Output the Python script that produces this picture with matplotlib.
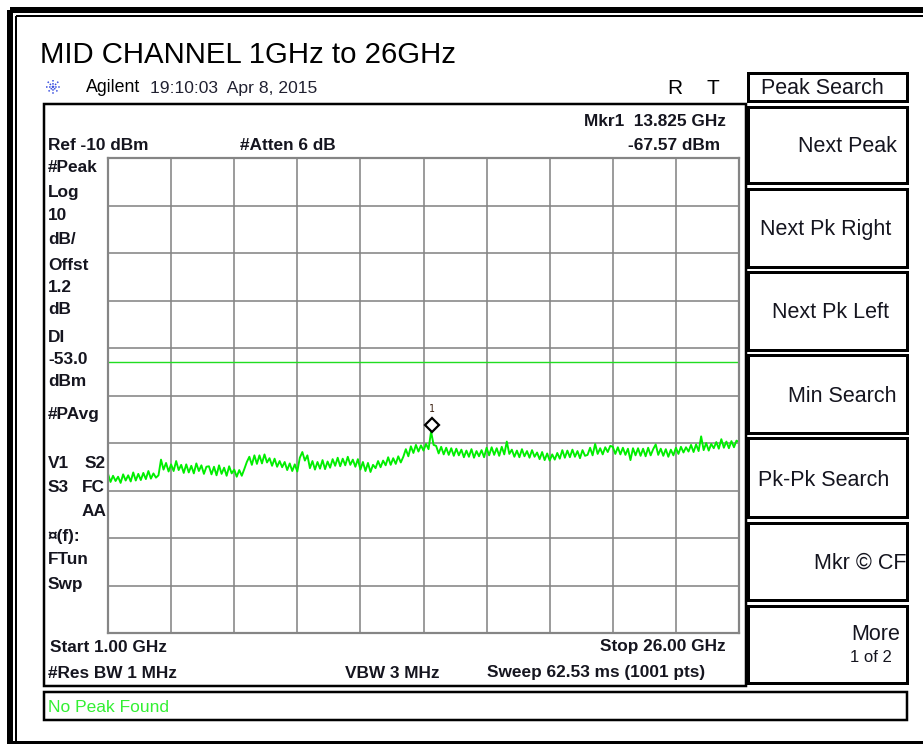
import numpy as np
import matplotlib
matplotlib.use("Agg")
import matplotlib.pyplot as plt
from matplotlib.patches import Rectangle
import matplotlib.transforms as mtransforms

plt.rcParams['font.family'] = ['Liberation Sans', 'DejaVu Sans']

# ---- sweep settings ----
start_ghz = 1.0
stop_ghz = 26.0
step_ghz = 0.1
ref_level_dbm = -10.0
db_per_div = 10.0
display_line_dbm = -53.0
marker_freq_ghz = 13.825
marker_level_dbm = -67.57

# ---- measured trace (dBm), one value per 0.1 GHz from 1.0 to 26.0 GHz ----
trace_dbm = [
    -76.5, -78.2, -76.9, -78.0, -77.1, -78.4, -76.6, -77.9, -76.8, -78.1,
    -76.2, -77.9, -76.5, -77.8, -76.3, -77.6, -75.9, -77.5, -76.4, -77.3,
    -76.8, -73.5, -75.6, -74.2, -76.0, -74.5, -75.9, -73.8, -75.7, -74.6,
    -76.3, -74.5, -76.2, -74.8, -76.4, -74.3, -75.9, -74.7, -76.5, -75.0,
    -74.9, -76.6, -75.0, -76.8, -74.7, -76.5, -75.2, -76.9, -74.9, -76.4,
    -75.6, -77.1, -75.7, -76.9, -75.5, -74.0, -72.9, -74.6, -72.6, -74.4,
    -72.6, -74.3, -72.4, -74.1, -73.2, -74.8, -73.3, -75.0, -73.8, -75.1,
    -74.0, -75.7, -74.3, -75.9, -74.5, -76.0, -73.1, -71.9, -73.7, -72.6,
    -75.3, -73.8, -75.6, -74.0, -75.4, -73.6, -75.5, -73.9, -75.2, -73.4,
    -74.8, -73.1, -74.9, -73.3, -74.7, -72.9, -74.6, -73.5, -75.0, -73.4,
    -75.6, -74.0, -75.9, -74.2, -76.1, -74.6, -75.3, -73.8, -75.1, -73.7,
    -74.7, -73.0, -74.6, -73.2, -74.4, -72.8, -74.1, -72.9, -71.3, -72.8,
    -70.7, -72.1, -70.4, -71.8, -70.5, -71.6, -70.2, -71.3, -67.57, -70.4,
    -70.6, -72.2, -70.8, -72.4, -71.0, -72.5, -71.1, -72.7, -71.2, -72.6,
    -71.4, -73.0, -71.6, -72.9, -71.3, -73.1, -71.7, -72.8, -71.5, -73.0,
    -71.0, -72.6, -70.9, -72.5, -71.1, -72.7, -70.8, -72.4, -69.7, -72.3,
    -71.4, -72.9, -71.6, -73.0, -71.3, -72.8, -71.7, -73.1, -71.5, -72.9,
    -72.0, -73.4, -71.9, -73.6, -72.2, -73.7, -72.4, -73.5, -72.1, -73.3,
    -71.5, -73.1, -71.6, -73.0, -71.4, -72.9, -71.7, -73.2, -71.5, -72.7,
    -72.5, -71.0, -72.6, -70.2, -72.3, -71.1, -72.4, -70.9, -71.9, -70.6,
    -70.8, -72.3, -70.9, -72.4, -71.0, -72.5, -71.2, -73.6, -71.1, -72.6,
    -71.1, -72.7, -71.2, -72.8, -71.0, -72.6, -71.3, -70.3, -72.5, -71.2,
    -72.7, -71.3, -72.9, -71.4, -72.6, -71.0, -72.3, -70.8, -72.0, -70.9,
    -71.8, -70.4, -71.9, -70.3, -71.7, -68.6, -71.5, -70.0, -71.6, -70.2,
    -71.1, -69.8, -71.2, -69.2, -71.0, -69.7, -71.1, -69.6, -70.9, -69.5,
    -69.8,
]
freq_ghz = start_ghz + step_ghz * np.arange(len(trace_dbm))

# ---- screen annotations ----
left_labels = [
    ("#Peak", 167), ("Log", 192), ("10", 215), ("dB/", 239), ("Offst", 265),
    ("1.2", 287), ("dB", 309), ("DI", 338), ("-53.0", 360), ("dBm", 382),
    ("#PAvg", 414), ("¤(f):", 536), ("FTun", 560), ("Swp", 585),
]
softkeys = [
    ("Next Peak", 897, 147), ("Next Pk Right", 891, 230), ("Next Pk Left", 889, 313),
    ("Min Search", 897, 397), ("Pk-Pk Search", 889, 480), ("Mkr © CF", 906, 563),
    ("More", 900, 635),
]
softkey_boxes = [(107, 183), (189, 267), (272, 350), (355, 433), (438, 517),
                 (523, 600), (606, 683)]

W, H = 923, 744
DPI = 100
fig = plt.figure(figsize=(W / DPI, H / DPI), dpi=DPI)
fig.patch.set_facecolor("white")

bg = fig.add_axes([0, 0, 1, 1])
bg.set_xlim(0, W)
bg.set_ylim(H, 0)
bg.axis("off")

px = 72.0 / DPI  # points per pixel
ink = "#15151f"


def box(x0, y0, x1, y1, lw_px, color="black"):
    bg.add_patch(Rectangle((x0, y0), x1 - x0, y1 - y0, fill=False,
                           edgecolor=color, linewidth=lw_px * px, zorder=2))


# outer double frame
box(10, 10, 1000, 744, 6)
box(16, 16, 1000, 1000, 2)

# instrument panel, softkeys, status line
box(43.5, 104, 745.5, 685.5, 2.5)
box(748, 73, 907, 101, 3)
for y0, y1 in softkey_boxes:
    box(748, y0, 907, y1, 3)
box(43.5, 692, 907, 720, 2.5)

# title and header
bg.text(40, 63, "MID CHANNEL 1GHz to 26GHz", fontsize=21.2, color="black",
        ha="left", va="baseline")
cx, cy, r = 53, 87, 7.5
for ang in (0, 45, 90, 135):
    a = np.deg2rad(ang)
    bg.plot([cx - r * np.cos(a), cx + r * np.cos(a)],
            [cy - r * np.sin(a), cy + r * np.sin(a)],
            color="#3a4fe0", lw=1.1, ls=(0, (1, 1)), solid_capstyle="butt")
bg.text(86, 88, "Agilent", fontsize=12.8, color="black", ha="left", va="center")
bg.text(150, 88, "19:10:03  Apr 8, 2015", fontsize=12.6, color="#202030",
        ha="left", va="center")
bg.text(675, 88, "R", fontsize=15, color="black", ha="center", va="center")
bg.text(713, 88, "T", fontsize=15, color="black", ha="center", va="center")
bg.text(822, 88, "Peak Search", fontsize=15.5, color=ink, ha="center", va="center")

# softkey labels
for label, x, y in softkeys:
    bg.text(x, y, label, fontsize=15.5, color=ink, ha="right", va="center")
bg.text(892, 657, "1 of 2", fontsize=12, color=ink, ha="right", va="center")

# readouts
bold = dict(fontsize=12.4, fontweight="bold", color=ink, va="center")
bg.text(48, 145, "Ref -10 dBm", ha="left", **bold)
bg.text(240, 145, "#Atten 6 dB", ha="left", **bold)
bg.text(726, 121, "Mkr1  13.825 GHz", ha="right", **bold)
bg.text(720, 145, "-67.57 dBm", ha="right", **bold)
for label, y in left_labels:
    bg.text(48, y, label, ha="left", **bold)
bg.text(48, 463, "V1", ha="left", **bold)
bg.text(85, 463, "S2", ha="left", **bold)
bg.text(48, 487, "S3", ha="left", **bold)
bg.text(82, 487, "FC", ha="left", **bold)
bg.text(82, 512, "AA", ha="left", **bold)
bg.text(50, 647, "Start 1.00 GHz", ha="left", **bold)
bg.text(726, 647, "Stop 26.00 GHz", ha="right", **bold)
bg.text(48, 673, "#Res BW 1 MHz", ha="left", **bold)
bg.text(345, 673, "VBW 3 MHz", ha="left", **bold)
bg.text(487, 673, "Sweep 62.53 ms (1001 pts)", ha="left", **bold)
bg.text(48, 707, "No Peak Found", fontsize=12.5, color="#33f033", ha="left", va="center")

# ---- spectrum graticule ----
gx0, gx1, gy0, gy1 = 108, 739, 158, 633
ax = fig.add_axes([gx0 / W, (H - gy1) / H, (gx1 - gx0) / W, (gy1 - gy0) / H])
ax.set_xlim(start_ghz, stop_ghz)
bottom_dbm = ref_level_dbm - 10 * db_per_div
ax.set_ylim(bottom_dbm, ref_level_dbm)
ax.set_xticks(np.linspace(start_ghz, stop_ghz, 11))
ax.set_yticks(np.arange(bottom_dbm, ref_level_dbm + 1, db_per_div))
ax.tick_params(left=False, bottom=False, labelleft=False, labelbottom=False)
ax.grid(True, color="#858585", linewidth=1.6 * px)
for s in ax.spines.values():
    s.set_color("#858585")
    s.set_linewidth(2.2 * px)
ax.set_facecolor("white")
ax.set_axisbelow(True)

ax.axhline(display_line_dbm, color="#22dd22", linewidth=1.4 * px)
ax.plot(freq_ghz, trace_dbm, color="#00ee00", linewidth=1.9 * px)

# marker 1
mk_tr = mtransforms.offset_copy(ax.transData, fig=fig, x=0, y=6, units="dots")
ax.plot([marker_freq_ghz], [marker_level_dbm], marker="D", markersize=7,
        markerfacecolor="white", markeredgecolor="black", markeredgewidth=1.6,
        transform=mk_tr, clip_on=False, zorder=5)
lb_tr = mtransforms.offset_copy(ax.transData, fig=fig, x=0, y=22, units="dots")
ax.text(marker_freq_ghz, marker_level_dbm, "1", transform=lb_tr, fontsize=7,
        color="#3a2010", ha="center", va="center", family="DejaVu Sans Mono")

fig.savefig("out.png", dpi=DPI, facecolor="white")
